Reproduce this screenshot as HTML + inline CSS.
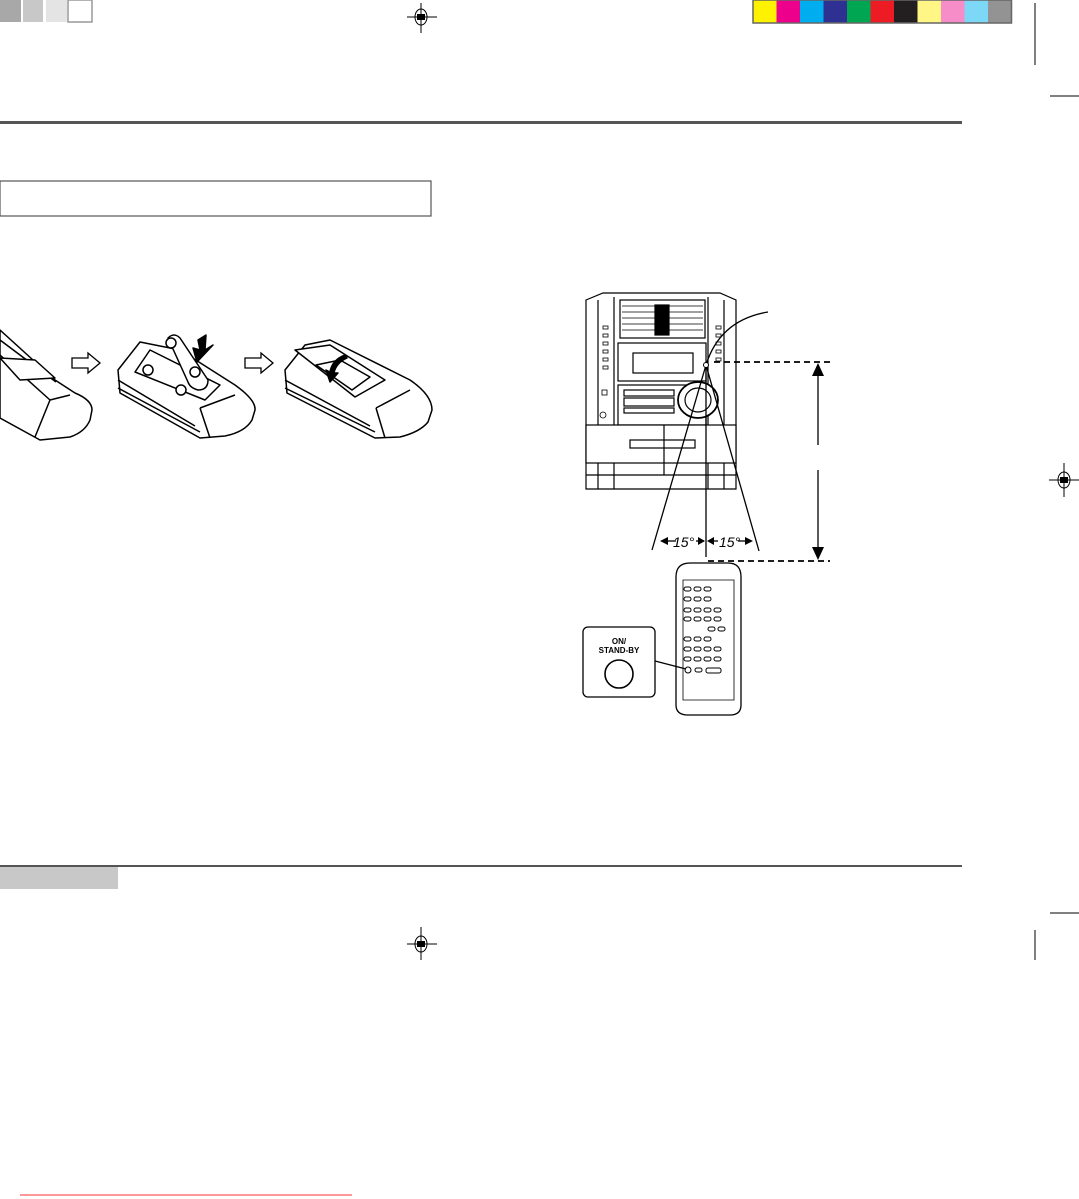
<!DOCTYPE html>
<html><head><meta charset="utf-8"><style>
html,body{margin:0;padding:0;background:#fff}
svg{display:block}
text{font-family:"Liberation Sans",sans-serif}
</style></head><body>
<svg width="1079" height="1199" viewBox="0 0 1079 1199" xmlns="http://www.w3.org/2000/svg">
<!-- top color bars -->
<rect x="0" y="0" width="21" height="22" fill="#a8a8a8"/>
<rect x="23" y="0" width="20" height="22" fill="#c8c8c8"/>
<rect x="46" y="0" width="21" height="22" fill="#e4e4e4"/>
<rect x="68" y="0" width="24" height="22" fill="#fff" stroke="#999" stroke-width="1.5"/>
<g>
<rect x="753" y="0" width="23.5" height="23" fill="#fff200"/>
<rect x="776.5" y="0" width="23.5" height="23" fill="#ec008c"/>
<rect x="800" y="0" width="23.5" height="23" fill="#00aeef"/>
<rect x="823.5" y="0" width="23.5" height="23" fill="#2e3192"/>
<rect x="847" y="0" width="23.5" height="23" fill="#00a651"/>
<rect x="870.5" y="0" width="23.5" height="23" fill="#ed1c24"/>
<rect x="894" y="0" width="23.5" height="23" fill="#231f20"/>
<rect x="917.5" y="0" width="23.5" height="23" fill="#fff685"/>
<rect x="941" y="0" width="23.5" height="23" fill="#f68cc8"/>
<rect x="964.5" y="0" width="23.5" height="23" fill="#7dd8f8"/>
<rect x="988" y="0" width="23.5" height="23" fill="#939393"/>
<rect x="753" y="0" width="258.5" height="23" fill="none" stroke="#666" stroke-width="1.5"/>
</g>
<!-- registration marks -->
<g stroke="#000" fill="none" stroke-width="1">
<line x1="421" y1="3" x2="421" y2="33"/><line x1="407" y1="17" x2="437" y2="17"/>
<ellipse cx="421" cy="17" rx="6" ry="8"/>
<line x1="421" y1="927" x2="421" y2="960"/><line x1="407" y1="944" x2="437" y2="944"/>
<ellipse cx="421" cy="944" rx="6" ry="8"/>
<line x1="1064" y1="463" x2="1064" y2="497"/><line x1="1049" y1="480" x2="1079" y2="480"/>
<ellipse cx="1064" cy="480" rx="6" ry="8"/>
<line x1="1035" y1="3" x2="1035" y2="65"/>
<line x1="1050" y1="96" x2="1079" y2="96"/>
<line x1="1050" y1="913" x2="1079" y2="913"/>
<line x1="1035" y1="930" x2="1035" y2="960"/>
</g>
<g fill="#000"><rect x="417" y="14" width="8" height="6"/><rect x="417" y="941" width="8" height="6"/><rect x="1060" y="477" width="8" height="6"/></g>
<!-- main rules -->
<rect x="0" y="121" width="962" height="3" fill="#555"/>
<rect x="0" y="181" width="431" height="35" fill="none" stroke="#555" stroke-width="1.2"/>
<rect x="0" y="865" width="962" height="2" fill="#555"/>
<rect x="0" y="867" width="118" height="22" fill="#c8c8c8"/>
<line x1="20" y1="1195" x2="352" y2="1195" stroke="#f33" stroke-width="1"/>

<!-- remote illustrations -->
<g stroke="#000" fill="#fff" stroke-width="1.5" stroke-linejoin="round">
 <!-- remote 1 -->
 <path d="M0 330 L55 380 L75 393 Q92 400 92 410 L90 420 Q85 432 70 437 L40 440 L0 418 Z"/>
 <path d="M0 340 L56 382 M0 355 L50 400 L70 395 M50 400 L35 437" fill="none"/>
 <path d="M0 358 L20 380 L55 378 L35 360 Z"/>
 <!-- remote 2 -->
 <path d="M118 370 L140 342 L180 350 L235 385 Q256 400 255 410 L252 420 Q245 432 225 436 L200 438 L120 393 Z"/>
 <path d="M118 380 L195 426 M118 388 L200 432 M200 408 L235 395 M200 408 L210 438" fill="none"/>
 <path d="M135 372 L150 350 L220 385 L205 400 Z"/>
 <circle cx="148" cy="370" r="5"/><circle cx="181" cy="390" r="5"/>
 <path d="M168 338 Q174 332 180 338 L208 380 Q208 390 198 390 Q190 388 188 382 Z"/>
 <circle cx="171" cy="343" r="5"/><circle cx="195" cy="372" r="5"/>
 <path d="M198 340 L206 335 L205 350 L213 345 L197 362 L193 348 L200 350 Z" fill="#000"/>
 <!-- remote 3 -->
 <path d="M285 370 L305 345 L330 340 L410 380 Q432 395 432 410 L428 422 Q420 432 400 437 L375 438 L287 393 Z"/>
 <path d="M285 380 L370 426 M285 388 L375 432 M376 408 L410 390 M376 408 L385 438" fill="none"/>
 <path d="M295 350 L330 345 L385 380 L355 397 Z"/>
 <path d="M316 365 L340 360 L370 377 L352 390 Z" fill="none"/>
 <path d="M345 355 Q332 360 330 372 L326 370 L330 382 L338 373 L334 373 Q336 363 347 358 Z" fill="#000"/>
</g>
<!-- hollow arrows -->
<g stroke="#000" fill="#fff" stroke-width="1.3">
 <path d="M72 358 L88 358 L88 353 L100 363 L88 373 L88 368 L72 368 Z"/>
 <path d="M245 358 L261 358 L261 353 L273 363 L261 373 L261 368 L245 368 Z"/>
</g>

<!-- stereo unit -->
<g stroke="#000" fill="#fff" stroke-width="1.2">
 <path d="M586 300 L603 293 L720 293 L736 300 L736 489 L586 489 Z"/>
 <line x1="598" y1="300" x2="598" y2="489"/><line x1="614" y1="297" x2="614" y2="489"/>
 <line x1="708" y1="297" x2="708" y2="489"/><line x1="724" y1="300" x2="724" y2="489"/>
 <rect x="620" y="300" width="85" height="38"/>
 <g stroke-width="0.8">
  <line x1="622" y1="306" x2="703" y2="306"/><line x1="622" y1="312" x2="703" y2="312"/>
  <line x1="622" y1="318" x2="703" y2="318"/><line x1="622" y1="324" x2="703" y2="324"/>
  <line x1="622" y1="330" x2="703" y2="330"/>
 </g>
 <rect x="655" y="305" width="14" height="30" fill="#000"/>
 <rect x="618" y="343" width="88" height="38"/>
 <rect x="633" y="353" width="60" height="20"/>
 <rect x="618" y="385" width="88" height="40"/>
 <rect x="624" y="390" width="50" height="6"/><rect x="624" y="398" width="50" height="8"/><rect x="624" y="408" width="50" height="5"/>
 <ellipse cx="698" cy="400" rx="20" ry="18" stroke-width="1.8"/>
 <ellipse cx="698" cy="400" rx="13" ry="12"/>
 <rect x="586" y="425" width="150" height="38"/>
 <rect x="630" y="440" width="65" height="8"/>
 <line x1="664" y1="425" x2="664" y2="475"/>
 <line x1="586" y1="475" x2="736" y2="475"/>
 <g stroke-width="0.8">
  <rect x="603" y="326" width="5" height="3"/><rect x="603" y="334" width="5" height="3"/><rect x="603" y="342" width="5" height="3"/>
  <rect x="603" y="350" width="5" height="3"/><rect x="603" y="358" width="5" height="3"/><rect x="603" y="366" width="5" height="3"/>
  <rect x="716" y="326" width="5" height="3"/><rect x="716" y="334" width="5" height="3"/><rect x="716" y="342" width="5" height="3"/>
  <rect x="716" y="350" width="5" height="3"/><rect x="716" y="358" width="5" height="3"/>
  <rect x="602" y="390" width="5" height="5"/><circle cx="603" cy="415" r="3"/>
 </g>
</g>
<!-- angle lines -->
<g stroke="#000" fill="none" stroke-width="1.3">
 <path d="M706 365 Q720 320 768 312"/>
 <line x1="706" y1="365" x2="652" y2="550"/>
 <line x1="706" y1="365" x2="759" y2="551"/>
 <line x1="706" y1="365" x2="706" y2="557"/>
 <line x1="714" y1="362" x2="830" y2="362" stroke-dasharray="6,4" stroke-width="1.8"/>
 <line x1="708" y1="561" x2="830" y2="561" stroke-dasharray="6,4" stroke-width="1.8"/>
 <line x1="818" y1="370" x2="818" y2="445"/>
 <line x1="818" y1="470" x2="818" y2="553"/>
 <line x1="666" y1="541" x2="676" y2="541"/><line x1="696" y1="541" x2="704" y2="541"/>
 <line x1="710" y1="541" x2="718" y2="541"/><line x1="738" y1="541" x2="748" y2="541"/>
</g>
<g fill="#000">
 <circle cx="706" cy="365" r="2.5" fill="#fff" stroke="#000"/>
 <path d="M818 363 L812 376 L824 376 Z"/><path d="M818 560 L812 547 L824 547 Z"/>
 <path d="M660 541 L668 537 L668 545 Z"/><path d="M705 541 L698 537 L698 545 Z"/>
 <path d="M707 541 L714 537 L714 545 Z"/><path d="M753 541 L745 537 L745 545 Z"/>
</g>
<text x="673" y="547" font-size="14" font-style="italic">15°</text>
<text x="719" y="547" font-size="14" font-style="italic">15°</text>

<!-- handheld remote -->
<g stroke="#000" fill="#fff" stroke-width="1.3">
 <path d="M676 577 Q676 563 690 563 L728 563 Q741 563 741 577 L741 705 Q741 715 730 715 L688 715 Q676 715 676 705 Z"/>
 <path d="M683 580 L734 580 L734 700 L683 700 Z" stroke-width="0.8"/>
 <g stroke-width="1">
  <rect x="684" y="587" width="7" height="4" rx="2"/><rect x="694" y="587" width="7" height="4" rx="2"/><rect x="704" y="587" width="7" height="4" rx="2"/>
  <rect x="684" y="597" width="7" height="4" rx="2"/><rect x="694" y="597" width="7" height="4" rx="2"/><rect x="704" y="597" width="7" height="4" rx="2"/>
  <rect x="684" y="608" width="7" height="4" rx="2"/><rect x="694" y="608" width="7" height="4" rx="2"/><rect x="704" y="608" width="7" height="4" rx="2"/><rect x="714" y="608" width="7" height="4" rx="2"/>
  <rect x="684" y="617" width="7" height="4" rx="2"/><rect x="694" y="617" width="7" height="4" rx="2"/><rect x="704" y="617" width="7" height="4" rx="2"/><rect x="714" y="617" width="7" height="4" rx="2"/>
  <rect x="708" y="627" width="7" height="4" rx="2"/><rect x="718" y="627" width="7" height="4" rx="2"/>
  <rect x="684" y="637" width="7" height="4" rx="2"/><rect x="694" y="637" width="7" height="4" rx="2"/><rect x="704" y="637" width="7" height="4" rx="2"/>
  <rect x="684" y="647" width="7" height="4" rx="2"/><rect x="694" y="647" width="7" height="4" rx="2"/><rect x="704" y="647" width="7" height="4" rx="2"/><rect x="714" y="647" width="7" height="4" rx="2"/>
  <rect x="684" y="657" width="7" height="4" rx="2"/><rect x="694" y="657" width="7" height="4" rx="2"/><rect x="704" y="657" width="7" height="4" rx="2"/><rect x="714" y="657" width="7" height="4" rx="2"/>
  <circle cx="688" cy="670" r="3"/><rect x="695" y="668" width="7" height="4" rx="2"/><rect x="706" y="668" width="15" height="5" rx="2"/>
 </g>
 <line x1="655" y1="661" x2="686" y2="669"/>
 <rect x="583" y="627" width="72" height="70" rx="5"/>
 <circle cx="619" cy="674" r="14" stroke-width="1.6"/>
</g>
<text x="619" y="644" font-size="8" font-weight="bold" text-anchor="middle">ON/</text>
<text x="619" y="653" font-size="8" font-weight="bold" text-anchor="middle">STAND-BY</text>
</svg>
</body></html>
